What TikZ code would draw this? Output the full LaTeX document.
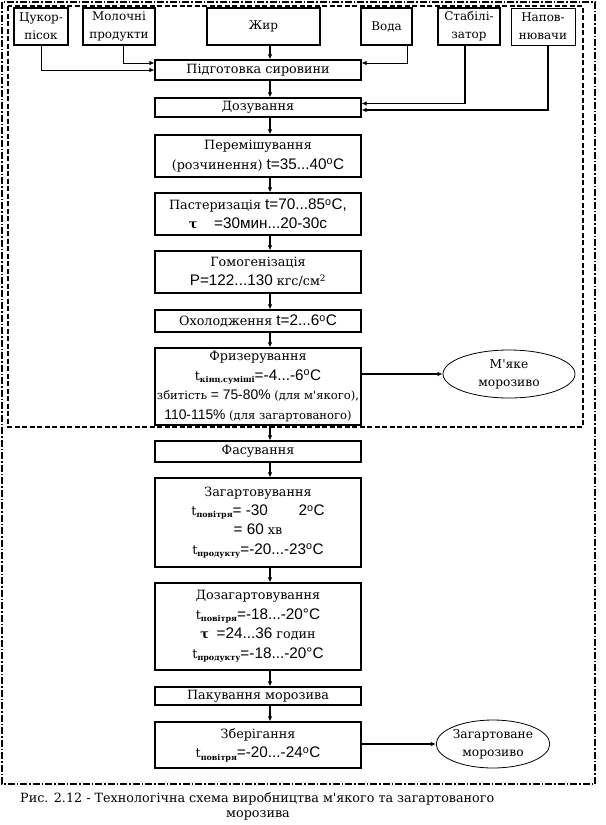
\documentclass[tikz,border=0pt]{standalone}
\usepackage{fontspec}
\setmainfont{DejaVu Serif}
\newfontfamily\ar{Liberation Sans}[Scale=1.2]
\usetikzlibrary{shapes.geometric,arrows.meta}
\newcommand{\lowtxt}[1]{\raisebox{-0.35ex}{\fontsize{8}{8}\selectfont\bfseries #1}}
\newcommand{\dg}{\textsuperscript{o}}
\newcommand{\ap}{\textquotesingle}
\tikzset{
  box/.style={draw, line width=1.2bp, align=center, inner sep=0pt, minimum width=206bp, font=\fontsize{12.8}{19.5}\selectfont},
  topbox/.style={draw, line width=1.2bp, align=center, inner sep=0pt, minimum height=37bp, font=\fontsize{12}{18}\selectfont},
  ell/.style={draw, ellipse, line width=0.8bp, align=center, inner sep=0pt, font=\fontsize{12.3}{18}\selectfont},
  arr/.style={line width=1.2bp, -{Latex[length=5bp,width=4.5bp]}},
  thinarr/.style={line width=0.8bp, -{Latex[length=5bp,width=4.5bp]}},
}
\begin{document}
\begin{tikzpicture}[x=1bp,y=-1bp]
\useasboundingbox (0,0) rectangle (606,825);
% borders
\draw[line width=1.3bp, dash pattern=on 7bp off 2bp on 1.5bp off 2bp] (2,2) rectangle (595,784);
\draw[line width=1.5bp, dash pattern=on 5bp off 2.5bp] (8,6) rectangle (583,427);
\coordinate (ch) at (270,0);
% top boxes
\node[topbox, minimum width=54bp] (cuk) at (41,26.5) {Цукор-\\пісок};
\node[topbox, minimum width=72bp] (mol) at (119,26.5) {Молочні\\продукти};
\node[topbox, minimum width=113bp] (zhyr) at (263.5,26.5) {Жир};
\node[topbox, minimum width=51bp] (voda) at (386.5,26.5) {Вода};
\node[topbox, minimum width=62bp] (stab) at (469,26.5) {Стабілі-\\затор};
\node[topbox, line width=0.7bp, minimum width=64bp] (napov) at (543,26.5) {Напов-\\нювачи};
% main chain
\node[box, minimum height=20bp] (prep) at (258,70) {Підготовка сировини};
\node[box, minimum height=19bp] (doz) at (258,107.5) {Дозування};
\node[box, minimum height=42bp] (mix) at (258,156) {Перемішування\\(розчинення) {\ar t=35...40\dg C}};
\node[box, minimum height=42bp] (past) at (258,214) {Пастеризація {\ar t=70...85\dg C,}\\\textbf{τ}\hspace{1.3em}{\ar =30мин...20-30с}\hspace{1.5em}};
\node[box, minimum height=42bp] (hom) at (258,272) {Гомогенізація\\{\ar P=122...130} кгс/см\textsuperscript{2}};
\node[box, minimum height=22bp] (cool) at (258,321) {Охолодження {\ar t=2...6\dg C}};
\node[box, minimum height=77bp] (friz) at (258,386.5) {Фризерування\\t\lowtxt{кінц.суміші}{\ar=-4...-6\dg C}\\{\fontsize{11.6}{18}\selectfont збитість {\ar = 75-80\%} (для м\ap якого),}\\{\fontsize{11.6}{17}\selectfont {\ar 110-115\%} (для загартованого)}};
\node[box, minimum height=21bp] (fas) at (258,451.5) {Фасування};
\node[box, minimum height=89bp] (zag) at (258,522.5) {Загартовування\\t\lowtxt{повітря}{\ar= -30\hspace{2em}2\dg C}\\{\ar = 60} хв\\t\lowtxt{продукту}{\ar=-20...-23\dg C}};
\node[box, minimum height=87bp] (dozag) at (258,626.5) {Дозагартовування\\t\lowtxt{повітря}{\ar=-18...-20°C}\\\textbf{τ}\hspace{0.6em}{\ar =24...36} годин\hspace{1em}\\t\lowtxt{продукту}{\ar=-18...-20°C}};
\node[box, minimum height=18bp] (pak) at (258,696) {Пакування морозива};
\node[box, minimum height=46bp] (zber) at (258,745) {Зберігання\\t\lowtxt{повітря}{\ar=-20...-24\dg C}};
% ellipses
\node[ell, minimum width=132bp, minimum height=48bp] (soft) at (509,374) {М\ap яке\\морозиво};
\node[ell, minimum width=110bp, minimum height=48bp] (hard) at (493,744) {Загартоване\\морозиво};
% input connectors
\draw[thinarr] (cuk.south) |- (prep.west);
\draw[thinarr] ([xshift=4bp]mol.south) |- ([yshift=7bp]prep.west);
\draw[arr] (zhyr.south -| ch) -- (prep.north -| ch);
\draw[thinarr] ([xshift=21bp]voda.south) |- ([yshift=7bp]prep.east);
\draw[arr] ([xshift=-4bp]stab.south) |- ([yshift=4bp]doz.east);
\draw[arr] ([xshift=5bp]napov.south) |- ([yshift=-2.5bp]doz.east);
% chain connectors
\foreach \a/\b in {prep/doz,doz/mix,mix/past,past/hom,hom/cool,cool/friz,friz/fas,fas/zag,zag/dozag,dozag/pak,pak/zber}
  \draw[arr] (\a.south -| ch) -- (\b.north -| ch);
\draw[arr] (friz.east |- soft.west) -- (soft.west);
\draw[arr] (zber.east |- hard.west) -- (hard.west);
% caption
\node[anchor=west, inner sep=0pt, font=\fontsize{12.8}{16}\selectfont] (cap1) at (20,799) {Рис. 2.12 - Технологічна схема виробництва м\ap якого та загартованого};
\node[inner sep=0pt, font=\fontsize{12.8}{16}\selectfont] (cap2) at (258,815) {морозива};
\end{tikzpicture}
\end{document}
